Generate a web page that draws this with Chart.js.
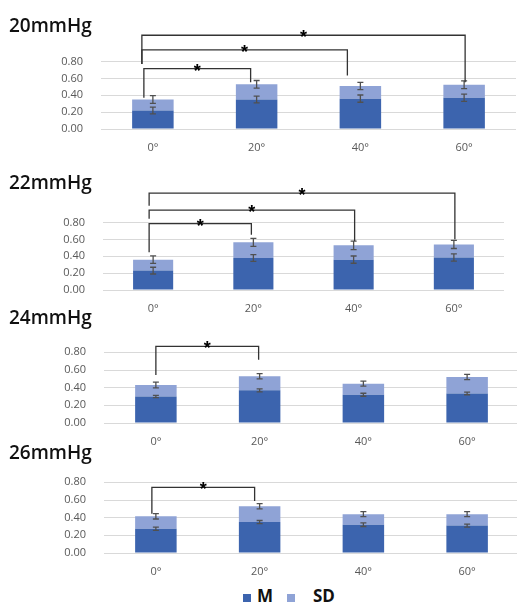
<!DOCTYPE html>
<html>
<head>
<meta charset="utf-8">
<script src="https://cdn.jsdelivr.net/npm/chart.js@4.4.1/dist/chart.umd.min.js"></script>
<style>
    html, body { margin: 0; padding: 0; background: #fff; width: 517px; height: 604px; overflow: hidden; position: relative; }
    .panel { position: absolute; left: 0; }
    .title { position: absolute; left: 9px; font-family: "Open Sans", sans-serif; font-weight: 600; font-size: 19px; line-height: 19px; color: #111; white-space: nowrap; }
    .legend-box { position: absolute; width: 8px; height: 8px; }
    .legend-text { position: absolute; font-family: "Open Sans", sans-serif; font-weight: bold; font-size: 17px; line-height: 17px; color: #111; }
</style>
</head>
<body>
<script>
// Categories and tick labels
const angles = ['0°', '20°', '40°', '60°'];
const pressures = ['20mmHg', '22mmHg', '24mmHg', '26mmHg'];
const yTicks = [0, 0.2, 0.4, 0.6, 0.8];

// 20mmHg
const mean20 = [0.22, 0.35, 0.36, 0.37];
const sd20 = [0.13, 0.18, 0.15, 0.155];
const errMean20 = [0.04, 0.04, 0.043, 0.043];
const errSd20 = [0.045, 0.045, 0.043, 0.045];
// significance: [from, to, bracket level, left leg end, right leg end]
const sig20 = [[0, 1, 0.717, 0.37, 0.554], [0, 2, 0.938, 0.772, 0.634], [0, 3, 1.112, 0.772, 0.554]];

// 22mmHg
const mean22 = [0.23, 0.38, 0.36, 0.385];
const sd22 = [0.13, 0.185, 0.17, 0.155];
const errMean22 = [0.04, 0.04, 0.043, 0.043];
const errSd22 = [0.045, 0.048, 0.05, 0.048];
const sig22 = [[0, 1, 0.786, 0.448, 0.655], [0, 2, 0.948, 0.845, 0.58], [0, 3, 1.148, 1.0, 0.603]];

// 24mmHg
const mean24 = [0.30, 0.37, 0.32, 0.335];
const sd24 = [0.13, 0.16, 0.125, 0.185];
const errMean24 = [0.013, 0.017, 0.017, 0.015];
const errSd24 = [0.032, 0.03, 0.028, 0.03];
const sig24 = [[0, 1, 0.867, 0.543, 0.717]];

// 26mmHg
const mean26 = [0.275, 0.35, 0.32, 0.31];
const sd26 = [0.14, 0.18, 0.12, 0.13];
const errMean26 = [0.018, 0.018, 0.02, 0.018];
const errSd26 = [0.03, 0.03, 0.028, 0.028];
const sig26 = [[0, 1, 0.743, 0.443, 0.59]];

const seriesLabels = ['M', 'SD'];
const seriesColors = ['#3c64ae', '#8fa3d6'];

// Page layout of each panel (pixel of 0.00, pixel of 0.80, plot left/right, title baseline, leg nudges)
const panelLayout = [
    { y0: 129, y80: 52, left: 101, right: 516, titleBase: 33, legDx: [[-9, -6], [-11, -13], [-11, 1]] },
    { y0: 290, y80: 213, left: 103, right: 504, titleBase: 190, legDx: [[-4, -2], [-4, 1], [-4, 1]] },
    { y0: 423, y80: 343, left: 104, right: 519, titleBase: 325, legDx: [[0, -1]] },
    { y0: 553, y80: 473, left: 104, right: 519, titleBase: 460, legDx: [[-4, -5]] }
];

const MAX_Y = 1.25;
const PAD_TOP = 10;
const X_AXIS_H = 28;
const CANVAS_W = 530;
const FONT = '"Open Sans", sans-serif';

// Draw error bars at the top of each stacked segment
const errorBarPlugin = {
    id: 'errorBars',
    afterDatasetsDraw(chart) {
        const ctx = chart.ctx;
        const yScale = chart.scales.y;
        ctx.save();
        ctx.strokeStyle = '#505050';
        ctx.lineWidth = 1.3;
        chart.data.datasets.forEach((ds, di) => {
            const meta = chart.getDatasetMeta(di);
            meta.data.forEach((bar, i) => {
                let top = 0;
                for (let k = 0; k <= di; k++) top += chart.data.datasets[k].data[i];
                const e = ds.errors[i];
                const y1 = yScale.getPixelForValue(top + e);
                const y2 = yScale.getPixelForValue(top - e);
                const x = bar.x;
                ctx.beginPath();
                ctx.moveTo(x, y1); ctx.lineTo(x, y2);
                ctx.moveTo(x - 3, y1); ctx.lineTo(x + 3, y1);
                ctx.moveTo(x - 3, y2); ctx.lineTo(x + 3, y2);
                ctx.stroke();
            });
        });
        ctx.restore();
    }
};

// Draw significance brackets with stars
const bracketPlugin = {
    id: 'brackets',
    afterDatasetsDraw(chart, args, opts) {
        const ctx = chart.ctx;
        const xScale = chart.scales.x;
        const yScale = chart.scales.y;
        ctx.save();
        ctx.strokeStyle = '#333';
        ctx.lineWidth = 1.3;
        ctx.fillStyle = '#000';
        ctx.font = 'bold 18px "Liberation Sans", sans-serif';
        ctx.textAlign = 'center';
        ctx.textBaseline = 'alphabetic';
        opts.list.forEach((b, n) => {
            const dx = opts.legDx[n] || [0, 0];
            const xa = xScale.getPixelForValue(b[0]) + dx[0];
            const xb = xScale.getPixelForValue(b[1]) + dx[1];
            const yl = yScale.getPixelForValue(b[2]);
            ctx.beginPath();
            ctx.moveTo(xa, yScale.getPixelForValue(b[3]));
            ctx.lineTo(xa, yl);
            ctx.lineTo(xb, yl);
            ctx.lineTo(xb, yScale.getPixelForValue(b[4]));
            ctx.stroke();
            ctx.fillText('*', (xa + xb) / 2, yl + 8);
        });
        ctx.restore();
    }
};

function makePanel(n, mean, sd, errMean, errSd, sig) {
    const lay = panelLayout[n];
    const ppu = (lay.y0 - lay.y80) / 0.8;
    const areaTop = lay.y0 - MAX_Y * ppu;
    const top = Math.round(areaTop - PAD_TOP);
    const height = lay.y0 - top + X_AXIS_H;

    const box = document.createElement('div');
    box.className = 'panel';
    box.style.top = top + 'px';
    box.style.width = CANVAS_W + 'px';
    box.style.height = height + 'px';
    const canvas = document.createElement('canvas');
    box.appendChild(canvas);
    document.body.appendChild(box);

    const title = document.createElement('div');
    title.className = 'title';
    title.textContent = pressures[n];
    title.style.top = (lay.titleBase - 16.8) + 'px';
    document.body.appendChild(title);

    return new Chart(canvas, {
        type: 'bar',
        data: {
            labels: angles,
            datasets: [
                { label: seriesLabels[0], data: mean, errors: errMean, backgroundColor: seriesColors[0], borderWidth: 0, barPercentage: 0.4, categoryPercentage: 1.0 },
                { label: seriesLabels[1], data: sd, errors: errSd, backgroundColor: seriesColors[1], borderWidth: 0, barPercentage: 0.4, categoryPercentage: 1.0 }
            ]
        },
        options: {
            responsive: true,
            maintainAspectRatio: false,
            animation: false,
            layout: { padding: { top: areaTop - top, right: CANVAS_W - lay.right, left: 0, bottom: 0 } },
            plugins: {
                legend: { display: false },
                tooltip: { enabled: false },
                brackets: { list: sig, legDx: lay.legDx }
            },
            scales: {
                x: {
                    stacked: true,
                    grid: { display: false },
                    border: { display: false },
                    ticks: { color: '#595959', font: { family: FONT, size: 11 }, padding: 4 },
                    afterFit(s) { s.height = X_AXIS_H; }
                },
                y: {
                    stacked: true,
                    min: 0,
                    max: MAX_Y,
                    afterBuildTicks(s) { s.ticks = yTicks.map(v => ({ value: v })); },
                    grid: { color: '#d9d9d9', lineWidth: 1, drawTicks: false },
                    border: { display: false },
                    ticks: { color: '#595959', font: { family: FONT, size: 11 }, padding: 18, callback: v => v.toFixed(2) },
                    afterFit(s) { s.width = lay.left; }
                }
            }
        },
        plugins: [errorBarPlugin, bracketPlugin]
    });
}

makePanel(0, mean20, sd20, errMean20, errSd20, sig20);
makePanel(1, mean22, sd22, errMean22, errSd22, sig22);
makePanel(2, mean24, sd24, errMean24, errSd24, sig24);
makePanel(3, mean26, sd26, errMean26, errSd26, sig26);

// Legend under the last panel
const legendPos = [{ box: 243, text: 257 }, { box: 287, text: 313 }];
seriesLabels.forEach((lab, i) => {
    const sq = document.createElement('div');
    sq.className = 'legend-box';
    sq.style.left = legendPos[i].box + 'px';
    sq.style.top = '594px';
    sq.style.background = seriesColors[i];
    document.body.appendChild(sq);
    const tx = document.createElement('div');
    tx.className = 'legend-text';
    tx.textContent = lab;
    tx.style.left = legendPos[i].text + 'px';
    tx.style.top = '587px';
    document.body.appendChild(tx);
});
</script>
</body>
</html>
